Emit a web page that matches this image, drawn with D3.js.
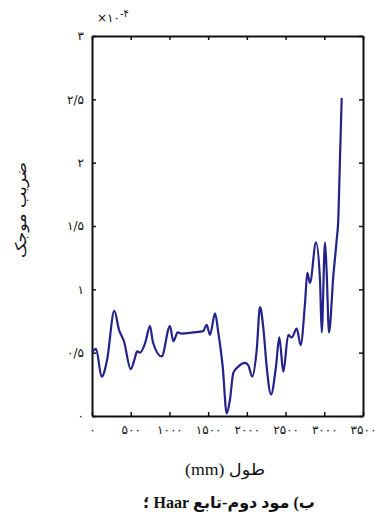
<!DOCTYPE html>
<html>
<head>
<meta charset="utf-8">
<script src="https://cdn.jsdelivr.net/npm/d3@7/dist/d3.min.js"></script>
<style>
  html, body { margin: 0; padding: 0; background: #fff; }
  svg { display: block; }
</style>
</head>
<body>
<svg id="chart" width="390" height="521"></svg>
<script>
// Position along the member (mm) and wavelet coefficient (×10^-4)
const positionMm = [0, 52, 125, 194, 288, 349, 413, 500, 555, 581, 620, 688, 749, 788, 900,
  1007, 1050, 1107, 1158, 1308, 1437, 1481, 1524, 1589, 1631, 1688, 1740, 1782, 1825, 1889,
  1976, 2019, 2070, 2127, 2170, 2212, 2256, 2312, 2376, 2419, 2471, 2535, 2579, 2644, 2695,
  2751, 2781, 2815, 2893, 2945, 2967, 3009, 3031, 3061, 3116, 3160, 3181, 3203, 3225];
const coefficient = [0.505, 0.53, 0.31, 0.44, 0.83, 0.68, 0.59, 0.37, 0.46, 0.51, 0.50, 0.58, 0.71, 0.58, 0.47,
  0.71, 0.59, 0.66, 0.65, 0.66, 0.67, 0.72, 0.64, 0.81, 0.66, 0.39, 0.02, 0.13, 0.34, 0.39,
  0.42, 0.40, 0.31, 0.52, 0.86, 0.70, 0.39, 0.17, 0.39, 0.62, 0.35, 0.64, 0.62, 0.69, 0.56,
  0.89, 1.13, 1.05, 1.37, 1.07, 0.66, 1.37, 1.13, 0.66, 1.10, 1.39, 1.55, 2.04, 2.51];

const xTicks = [0, 500, 1000, 1500, 2000, 2500, 3000, 3500];
const xTickLabels = ["۰", "۵۰۰", "۱۰۰۰", "۱۵۰۰", "۲۰۰۰", "۲۵۰۰", "۳۰۰۰", "۳۵۰۰"];
const yTicks = [0, 0.5, 1, 1.5, 2, 2.5, 3];
const yTickLabels = ["۰", "۰/۵", "۱", "۱/۵", "۲", "۲/۵", "۳"];

const yTitle = "ضریب موجک";
const xTitle = "طول (mm)";
const caption = "ب) مود دوم-تابع Haar ؛";

const svg = d3.select("#chart");
const plot = { left: 92, right: 363, top: 36, bottom: 416 };

const x = d3.scaleLinear().domain([0, 3500]).range([plot.left, plot.right]);
const y = d3.scaleLinear().domain([0, 3]).range([plot.bottom, plot.top]);

const tickFont = "'DejaVu Sans', sans-serif";
const serifFont = "'Liberation Serif', 'DejaVu Sans', serif";

// Box axes with inward ticks on all four sides
const axisBottom = d3.axisBottom(x).tickValues(xTicks).tickSizeInner(-4).tickSizeOuter(0)
  .tickPadding(9).tickFormat((d, i) => xTickLabels[i]);
const axisTop = d3.axisTop(x).tickValues(xTicks).tickSizeInner(-4).tickSizeOuter(0).tickFormat("");
const axisLeft = d3.axisLeft(y).tickValues(yTicks).tickSizeInner(-4).tickSizeOuter(0)
  .tickPadding(8).tickFormat((d, i) => yTickLabels[i]);
const axisRight = d3.axisRight(y).tickValues(yTicks).tickSizeInner(-4).tickSizeOuter(0).tickFormat("");

function styleAxis(g) {
  g.select(".domain").attr("stroke", "#111").attr("stroke-width", 2);
  g.selectAll(".tick line").attr("stroke", "#111").attr("stroke-width", 1.5);
  g.selectAll(".tick text").attr("fill", "#111").style("font-family", tickFont).style("font-size", "12px");
}

svg.append("g").attr("transform", `translate(0,${plot.bottom})`).call(axisBottom).call(styleAxis);
svg.append("g").attr("transform", `translate(0,${plot.top})`).call(axisTop).call(styleAxis);
svg.append("g").attr("transform", `translate(${plot.left},0)`).call(axisLeft).call(styleAxis);
svg.append("g").attr("transform", `translate(${plot.right},0)`).call(axisRight).call(styleAxis);

// Coefficient curve
const points = positionMm.map((p, i) => [p, coefficient[i]]);
const line = d3.line().x(d => x(d[0])).y(d => y(d[1])).curve(d3.curveMonotoneX);
svg.append("path")
  .datum(points)
  .attr("d", line)
  .attr("fill", "none")
  .attr("stroke", "#22228a")
  .attr("stroke-width", 2.2)
  .attr("stroke-linejoin", "round");

// Exponent label above the y axis
const expo = svg.append("text")
  .attr("x", 97).attr("y", 22)
  .attr("direction", "ltr")
  .style("font-family", tickFont).style("font-size", "12px").attr("fill", "#111");
expo.append("tspan").text("×۱۰");
expo.append("tspan").attr("dy", -5).style("font-size", "10px").text("-۴");

// Centered RTL text, stretched along its own direction to a given length
function fittedText(str, transformPrefix, length, size, family, bold) {
  const t = svg.append("text")
    .attr("text-anchor", "middle")
    .attr("direction", "rtl")
    .style("font-family", family).style("font-size", size + "px")
    .style("font-weight", bold ? "bold" : "normal")
    .attr("fill", "#111")
    .text(str);
  const w = t.node().getComputedTextLength() || length;
  t.attr("transform", `${transformPrefix} scale(${length / w},1)`);
  return t;
}

fittedText(yTitle, "translate(26,210) rotate(-90)", 96, 15, tickFont, false);
fittedText(xTitle, "translate(225,475)", 80, 16, serifFont, false);
fittedText(caption, "translate(229,508)", 172, 16, serifFont, true);
</script>
</body>
</html>
